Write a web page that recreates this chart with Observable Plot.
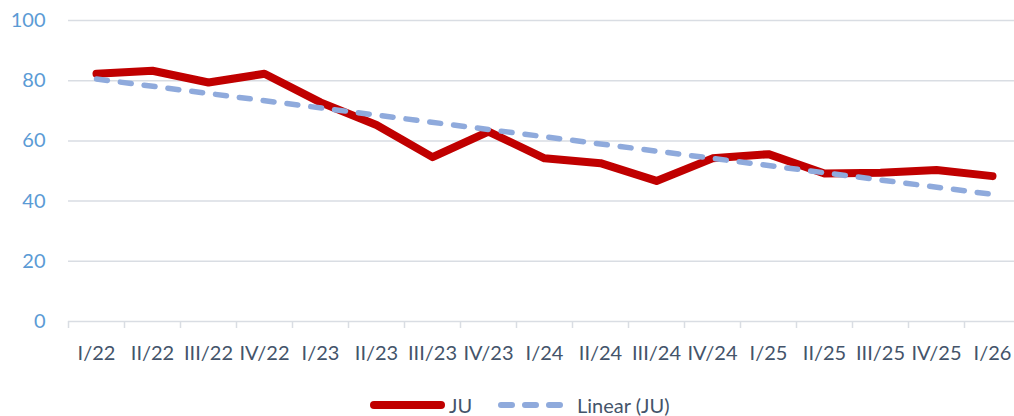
<!DOCTYPE html>
<html><head><meta charset="utf-8">
<script src="https://cdn.jsdelivr.net/npm/d3@7"></script>
<script src="https://cdn.jsdelivr.net/npm/@observablehq/plot@0.6"></script>
<style>
body{margin:0;background:#fff;font-family:Lato,sans-serif;}
#chart{position:relative;width:1014px;height:416px;overflow:hidden;}
.lg{position:absolute;top:393px;height:24px;display:flex;align-items:center;font:20px Lato,sans-serif;color:#44546a;white-space:nowrap;}
</style></head><body><div id="chart"></div>
<script>
const quarters = ["I/22","II/22","III/22","IV/22","I/23","II/23","III/23","IV/23","I/24","II/24","III/24","IV/24","I/25","II/25","III/25","IV/25","I/26"];
const ju = [82.3,83.3,79.4,82.3,72.8,65.3,54.6,63.1,54.2,52.6,46.7,54.2,55.6,49.2,49.4,50.3,48.3];
const yTicks = [0,20,40,60,80,100];
const seriesName = "JU";
const trendName = "Linear (JU)";

const data = quarters.map((q,i)=>({i:i+1,q,v:ju[i]}));
const boundaries = d3.range(0.5, quarters.length + 1, 1);

const plot = Plot.plot({
  width:1014, height:385, marginLeft:68, marginRight:0, marginTop:20, marginBottom:64,
  style:{fontFamily:"Lato, sans-serif", fontSize:"20px", background:"white", overflow:"visible"},
  x:{type:"linear", domain:[0.5, quarters.length + 0.5], range:[68,1020]},
  y:{domain:[0,100]},
  marks:[
    Plot.ruleY(yTicks,{stroke:"#d9dde3", strokeWidth:1.5}),
    Plot.axisY(yTicks,{tickSize:0, tickPadding:23, fill:"#5b9bd5", fontSize:20, label:null}),
    Plot.axisX(boundaries,{tickSize:7, stroke:"#d9dde3", strokeWidth:1.5, strokeOpacity:1, tickFormat:()=>"", label:null}),
    Plot.axisX(data.map(d=>d.i),{tickSize:0, tickPadding:24, tickFormat:i=>quarters[i-1], fill:"#44546a", fontSize:20, label:null}),
    Plot.line(data,{x:"i", y:"v", stroke:"#c00000", strokeWidth:8, strokeLinejoin:"round", strokeLinecap:"round"}),
    Plot.linearRegressionY(data,{x:"i", y:"v", ci:0, stroke:"#8faadc", strokeWidth:5.5, strokeDasharray:"11,13", strokeLinecap:"round"})
  ]
});
const chart = document.getElementById("chart");
chart.appendChild(plot);

function item(left, swatch, text){
  const d = document.createElement("div");
  d.className = "lg";
  d.style.left = left + "px";
  d.innerHTML = swatch + `<span>${text}</span>`;
  chart.appendChild(d);
}
item(370, `<svg width="79" height="12" style="display:block"><line x1="4" y1="6" x2="71" y2="6" stroke="#c00000" stroke-width="8" stroke-linecap="round"/></svg>`, seriesName);
item(498, `<svg width="79" height="12" style="display:block"><line x1="3" y1="6" x2="62" y2="6" stroke="#8faadc" stroke-width="6" stroke-dasharray="11,13" stroke-linecap="round"/></svg>`, trendName);
</script></body></html>
